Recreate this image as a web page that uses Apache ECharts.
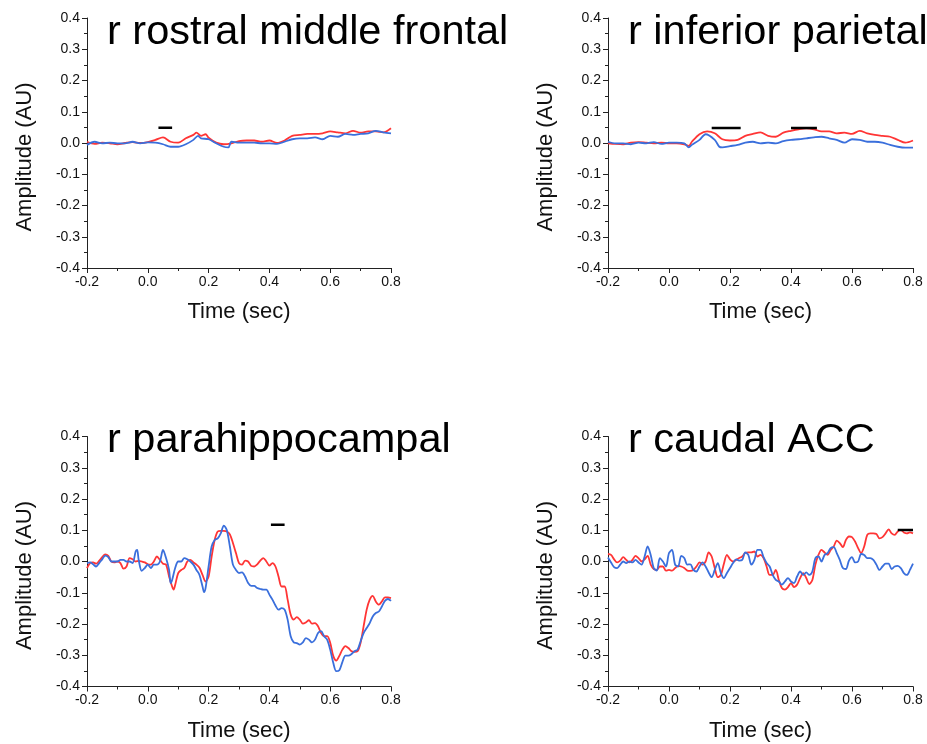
<!DOCTYPE html>
<html>
<head>
<meta charset="utf-8">
<script src="https://cdn.jsdelivr.net/npm/echarts@6/dist/echarts.min.js"></script>
<style>
  html, body { margin: 0; padding: 0; background: #fff; }
  #grafico { width: 927px; height: 744px; }
</style>
</head>
<body>
<div id="grafico"></div>
<script>
// Datos: pares [tiempo (s), amplitud (AU)]
var titulos = ['r rostral middle frontal', 'r inferior parietal', 'r parahippocampal', 'r caudal ACC'];

var rojo1 = [[-0.2,0.004],[-0.175,-0.003],[-0.15,0.001],[-0.125,-0.001],[-0.1,-0.004],[-0.075,0],[-0.05,0.003],[-0.025,0],[0,0.003],[0.025,0.01],[0.05,0.018],[0.075,0.004],[0.1,0.001],[0.125,0.015],[0.15,0.026],[0.16,0.033],[0.175,0.023],[0.19,0.028],[0.2,0.017],[0.225,0.001],[0.25,-0.004],[0.275,-0.001],[0.3,0.006],[0.325,0.008],[0.35,0.008],[0.375,0.004],[0.4,0.008],[0.425,0],[0.45,0.008],[0.475,0.023],[0.5,0.026],[0.525,0.029],[0.55,0.029],[0.575,0.031],[0.6,0.037],[0.625,0.034],[0.65,0.031],[0.675,0.039],[0.7,0.033],[0.725,0.037],[0.75,0.037],[0.775,0.034],[0.8,0.047]];
var azul1 = [[-0.2,-0.006],[-0.175,0.004],[-0.15,-0.001],[-0.125,0.001],[-0.1,-0.001],[-0.075,-0.001],[-0.05,0.004],[-0.025,-0.001],[0,0.002],[0.025,0.001],[0.05,-0.004],[0.075,-0.012],[0.1,-0.012],[0.125,-0.004],[0.15,0.01],[0.165,0.023],[0.175,0.015],[0.2,0.012],[0.225,-0.001],[0.25,-0.012],[0.265,-0.014],[0.275,0.004],[0.3,0.001],[0.325,0.001],[0.35,0.001],[0.375,-0.001],[0.4,-0.001],[0.425,-0.003],[0.45,0.004],[0.475,0.012],[0.5,0.015],[0.525,0.015],[0.55,0.018],[0.575,0.012],[0.6,0.023],[0.625,0.02],[0.65,0.029],[0.675,0.026],[0.7,0.029],[0.725,0.031],[0.75,0.039],[0.775,0.034],[0.8,0.031]];

var rojo2 = [[-0.2,-0.001],[-0.175,-0.003],[-0.15,-0.004],[-0.125,0.001],[-0.1,0.003],[-0.075,0.001],[-0.05,-0.001],[-0.025,0.001],[0,-0.001],[0.025,-0.001],[0.05,-0.004],[0.065,-0.009],[0.075,0.004],[0.1,0.028],[0.125,0.037],[0.15,0.031],[0.175,0.012],[0.2,0.008],[0.225,0.01],[0.25,0.023],[0.275,0.029],[0.3,0.034],[0.325,0.023],[0.35,0.02],[0.375,0.033],[0.4,0.039],[0.425,0.044],[0.45,0.047],[0.475,0.044],[0.5,0.037],[0.525,0.037],[0.55,0.031],[0.575,0.033],[0.6,0.029],[0.625,0.039],[0.65,0.031],[0.675,0.026],[0.7,0.023],[0.725,0.02],[0.75,0.01],[0.775,0.001],[0.8,0.008]];
var azul2 = [[-0.2,0.004],[-0.175,-0.001],[-0.15,-0.001],[-0.125,-0.004],[-0.1,0.001],[-0.075,-0.001],[-0.05,0.003],[-0.025,-0.003],[0,0.001],[0.025,0.001],[0.05,-0.001],[0.065,-0.014],[0.075,-0.006],[0.1,0.01],[0.12,0.028],[0.15,0.01],[0.165,-0.012],[0.175,-0.014],[0.2,-0.01],[0.225,-0.006],[0.25,0.001],[0.275,0.004],[0.3,-0.001],[0.325,0.001],[0.35,-0.001],[0.375,0.006],[0.4,0.01],[0.425,0.012],[0.45,0.015],[0.475,0.018],[0.5,0.02],[0.525,0.015],[0.55,0.01],[0.575,0.001],[0.6,0.012],[0.625,0.01],[0.65,0.004],[0.675,0.004],[0.7,0.001],[0.725,-0.006],[0.75,-0.012],[0.775,-0.015],[0.8,-0.015]];

var rojo3 = [[-0.2,-0.021],[-0.19,-0.005],[-0.18,-0.003],[-0.17,-0.007],[-0.16,0.002],[-0.15,0.014],[-0.14,0.023],[-0.13,0.018],[-0.12,0],[-0.11,-0.003],[-0.1,0],[-0.09,-0.005],[-0.08,-0.023],[-0.07,-0.016],[-0.06,0.011],[-0.05,0.007],[-0.04,0],[-0.03,0.002],[-0.02,0],[-0.01,-0.003],[0,-0.009],[0.01,-0.01],[0.02,0],[0.03,0.016],[0.04,0.005],[0.05,-0.007],[0.06,-0.01],[0.07,-0.048],[0.08,-0.08],[0.085,-0.09],[0.09,-0.075],[0.1,-0.037],[0.11,-0.027],[0.12,-0.021],[0.13,0],[0.14,0.005],[0.15,-0.003],[0.16,-0.01],[0.17,-0.02],[0.18,-0.043],[0.19,-0.064],[0.2,-0.048],[0.21,0.016],[0.22,0.069],[0.23,0.096],[0.24,0.098],[0.25,0.098],[0.26,0.096],[0.27,0.087],[0.28,0.059],[0.29,0.027],[0.3,-0.005],[0.31,-0.01],[0.32,0.003],[0.33,0],[0.34,-0.014],[0.35,-0.016],[0.36,-0.009],[0.37,0.003],[0.38,0.011],[0.39,0],[0.4,-0.013],[0.41,-0.005],[0.42,-0.016],[0.43,-0.048],[0.44,-0.08],[0.45,-0.08],[0.46,-0.122],[0.47,-0.17],[0.48,-0.186],[0.49,-0.178],[0.5,-0.186],[0.51,-0.199],[0.52,-0.195],[0.53,-0.188],[0.54,-0.199],[0.55,-0.197],[0.56,-0.207],[0.57,-0.229],[0.58,-0.239],[0.59,-0.239],[0.6,-0.26],[0.61,-0.302],[0.62,-0.317],[0.63,-0.302],[0.64,-0.282],[0.65,-0.271],[0.66,-0.277],[0.67,-0.287],[0.68,-0.289],[0.69,-0.287],[0.7,-0.26],[0.71,-0.207],[0.72,-0.154],[0.73,-0.122],[0.74,-0.11],[0.75,-0.128],[0.76,-0.138],[0.77,-0.128],[0.78,-0.115],[0.79,-0.115],[0.8,-0.117]];
var azul3 = [[-0.2,-0.005],[-0.19,-0.003],[-0.18,-0.009],[-0.17,-0.016],[-0.16,-0.005],[-0.15,0.007],[-0.14,0.019],[-0.13,0.014],[-0.12,0],[-0.11,0],[-0.1,0],[-0.09,0.005],[-0.08,0.005],[-0.07,0],[-0.06,0],[-0.05,-0.005],[-0.04,0.032],[-0.035,0.037],[-0.03,0.005],[-0.02,-0.03],[-0.01,-0.021],[0,-0.01],[0.01,-0.021],[0.02,-0.01],[0.03,-0.01],[0.04,0],[0.05,0.037],[0.06,0.011],[0.07,-0.027],[0.075,-0.069],[0.08,-0.059],[0.09,-0.021],[0.1,0],[0.11,0],[0.12,0.011],[0.13,0.007],[0.14,0],[0.15,-0.01],[0.16,-0.027],[0.17,-0.043],[0.18,-0.08],[0.185,-0.098],[0.19,-0.085],[0.2,-0.016],[0.21,0.048],[0.22,0.069],[0.23,0.074],[0.24,0.09],[0.25,0.115],[0.26,0.1],[0.27,0.048],[0.28,-0.01],[0.29,-0.027],[0.3,-0.037],[0.31,-0.035],[0.32,-0.048],[0.33,-0.069],[0.34,-0.078],[0.35,-0.078],[0.36,-0.085],[0.37,-0.088],[0.38,-0.09],[0.39,-0.09],[0.4,-0.106],[0.41,-0.122],[0.42,-0.141],[0.43,-0.154],[0.44,-0.149],[0.45,-0.154],[0.46,-0.186],[0.47,-0.239],[0.48,-0.259],[0.49,-0.261],[0.5,-0.266],[0.51,-0.259],[0.52,-0.245],[0.53,-0.25],[0.54,-0.259],[0.55,-0.25],[0.56,-0.229],[0.57,-0.223],[0.58,-0.239],[0.59,-0.25],[0.6,-0.282],[0.61,-0.324],[0.62,-0.351],[0.63,-0.348],[0.64,-0.322],[0.65,-0.301],[0.66,-0.301],[0.67,-0.296],[0.68,-0.287],[0.69,-0.282],[0.7,-0.255],[0.71,-0.229],[0.72,-0.213],[0.73,-0.197],[0.74,-0.176],[0.75,-0.165],[0.76,-0.16],[0.77,-0.144],[0.78,-0.126],[0.79,-0.12],[0.8,-0.126]];

var rojo4 = [[-0.2,0.024],[-0.19,0.021],[-0.18,0.007],[-0.17,-0.003],[-0.16,0.003],[-0.15,0.014],[-0.14,0.005],[-0.13,-0.003],[-0.12,0.005],[-0.11,0.018],[-0.1,0.011],[-0.09,0],[-0.08,0.007],[-0.07,0.018],[-0.06,-0.01],[-0.05,-0.024],[-0.04,-0.027],[-0.03,-0.016],[-0.02,-0.016],[-0.01,-0.029],[0,-0.027],[0.01,-0.029],[0.02,-0.021],[0.03,-0.014],[0.04,-0.016],[0.05,-0.021],[0.06,-0.029],[0.07,-0.03],[0.08,-0.027],[0.09,-0.016],[0.1,-0.003],[0.11,-0.01],[0.12,0],[0.13,0.029],[0.14,0.016],[0.15,-0.021],[0.16,-0.05],[0.17,-0.043],[0.18,-0.007],[0.19,0.021],[0.2,0.007],[0.21,0],[0.22,0.005],[0.23,0.011],[0.24,0.016],[0.25,0.027],[0.26,0.029],[0.27,0.029],[0.28,0.032],[0.29,0.016],[0.3,0.021],[0.31,0.011],[0.32,-0.016],[0.33,-0.043],[0.34,-0.043],[0.35,-0.027],[0.36,-0.059],[0.37,-0.085],[0.38,-0.09],[0.39,-0.082],[0.4,-0.069],[0.41,-0.082],[0.42,-0.074],[0.43,-0.053],[0.44,-0.037],[0.45,-0.053],[0.46,-0.072],[0.47,-0.059],[0.48,-0.01],[0.49,0.021],[0.5,0.037],[0.51,0.029],[0.52,0.021],[0.53,0.037],[0.54,0.048],[0.55,0.067],[0.56,0.059],[0.57,0.046],[0.58,0.069],[0.59,0.08],[0.6,0.078],[0.61,0.064],[0.62,0.043],[0.63,0.027],[0.64,0.048],[0.65,0.085],[0.66,0.09],[0.67,0.09],[0.68,0.088],[0.69,0.074],[0.7,0.078],[0.71,0.09],[0.72,0.103],[0.73,0.09],[0.74,0.085],[0.75,0.096],[0.76,0.101],[0.77,0.093],[0.78,0.09],[0.79,0.093],[0.8,0.09]];
var azul4 = [[-0.2,0.013],[-0.19,-0.003],[-0.18,-0.018],[-0.17,-0.021],[-0.16,-0.01],[-0.15,0],[-0.14,-0.005],[-0.13,0],[-0.12,-0.003],[-0.11,0.005],[-0.1,-0.003],[-0.09,-0.01],[-0.08,0.016],[-0.07,0.048],[-0.06,0.021],[-0.05,-0.021],[-0.04,-0.029],[-0.03,0.011],[-0.02,0],[-0.01,-0.016],[0,0.027],[0.01,0.037],[0.02,-0.01],[0.03,-0.016],[0.04,0.018],[0.05,0.011],[0.06,-0.01],[0.07,-0.009],[0.08,-0.027],[0.09,-0.032],[0.1,-0.016],[0.11,-0.003],[0.12,-0.016],[0.13,-0.035],[0.14,-0.05],[0.15,-0.027],[0.16,-0.005],[0.17,-0.037],[0.18,-0.053],[0.19,-0.037],[0.2,-0.021],[0.21,-0.005],[0.22,0.007],[0.23,0.003],[0.24,0.005],[0.25,0.029],[0.26,0.021],[0.27,-0.01],[0.28,0.005],[0.29,0.037],[0.3,0.037],[0.31,0.014],[0.32,-0.005],[0.33,-0.016],[0.34,-0.043],[0.35,-0.059],[0.36,-0.064],[0.37,-0.074],[0.38,-0.064],[0.39,-0.053],[0.4,-0.064],[0.41,-0.069],[0.42,-0.048],[0.43,-0.032],[0.44,-0.043],[0.45,-0.035],[0.46,-0.043],[0.47,-0.032],[0.48,0.011],[0.49,0.016],[0.5,0],[0.51,0.021],[0.52,0.027],[0.53,0.043],[0.54,0.046],[0.55,0.027],[0.56,0.005],[0.57,-0.021],[0.58,-0.024],[0.59,0.003],[0.6,0.014],[0.61,-0.003],[0.62,0],[0.63,0.024],[0.64,0.021],[0.65,0.011],[0.66,0.011],[0.67,0.005],[0.68,-0.01],[0.69,-0.027],[0.7,-0.016],[0.71,-0.007],[0.72,-0.007],[0.73,-0.024],[0.74,-0.016],[0.75,-0.014],[0.76,-0.021],[0.77,-0.037],[0.78,-0.043],[0.79,-0.027],[0.8,-0.007]];

// Barras de significancia: [inicio, fin, amplitud]
var barras1 = [[0.035, 0.08, 0.049]];
var barras2 = [[0.14, 0.235, 0.048], [0.4, 0.485, 0.048]];
var barras3 = [[0.405, 0.45, 0.118]];
var barras4 = [[0.75, 0.8, 0.101]];

var ticksX = [-0.2, 0.8, 0.2];   // min, max, intervalo
var ticksY = [-0.4, 0.4, 0.1];

var rojos = [rojo1, rojo2, rojo3, rojo4];
var azules = [azul1, azul2, azul3, azul4];
var barras = [barras1, barras2, barras3, barras4];

// Posiciones de los paneles (px)
var paneles = [
    { left: 87, top: 18, width: 304, height: 250, tituloTop: 12 },
    { left: 608, top: 18, width: 305, height: 250, tituloTop: 12 },
    { left: 87, top: 436.5, width: 304, height: 250, tituloTop: 420 },
    { left: 608, top: 436.5, width: 305, height: 250, tituloTop: 420 }
];

var fuente = 'Arial, "Liberation Sans", sans-serif';
var colorEje = '#222';

function formato(v) {
    if (Math.abs(v) < 1e-9) v = 0;
    return v.toFixed(1);
}

function ejeX(i) {
    return {
        type: 'value', gridIndex: i,
        min: ticksX[0], max: ticksX[1], interval: ticksX[2],
        axisLine: { show: true, onZero: false, lineStyle: { color: colorEje, width: 1 } },
        axisTick: { show: true, length: 5, lineStyle: { color: colorEje } },
        minorTick: { show: true, splitNumber: 2, length: 3, lineStyle: { color: colorEje } },
        splitLine: { show: false },
        axisLabel: { formatter: formato, fontSize: 14, color: '#111', fontFamily: fuente, margin: 7 }
    };
}

function ejeY(i) {
    return {
        type: 'value', gridIndex: i,
        min: ticksY[0], max: ticksY[1], interval: ticksY[2],
        axisLine: { show: true, onZero: false, lineStyle: { color: colorEje, width: 1 } },
        axisTick: { show: true, length: 5, lineStyle: { color: colorEje } },
        minorTick: { show: true, splitNumber: 2, length: 3, lineStyle: { color: colorEje } },
        splitLine: { show: false },
        axisLabel: { formatter: formato, fontSize: 14, color: '#111', fontFamily: fuente, margin: 7 }
    };
}

var grids = [], xAxes = [], yAxes = [], series = [], titles = [], textos = [];

paneles.forEach(function (p, i) {
    grids.push({ left: p.left, top: p.top, width: p.width, height: p.height });
    xAxes.push(ejeX(i));
    yAxes.push(ejeY(i));

    titles.push({
        text: titulos[i], left: p.left + 20, top: p.tituloTop, padding: 0,
        textStyle: { fontSize: 41.5, fontWeight: 'normal', color: '#000', fontFamily: fuente }
    });

    // Nombres de los ejes
    textos.push({
        type: 'text', x: p.left - 62, y: p.top + 139, rotation: Math.PI / 2,
        style: { text: 'Amplitude (AU)', font: '22px ' + fuente, fill: '#111', align: 'center', verticalAlign: 'middle' }
    });
    textos.push({
        type: 'text', x: p.left + p.width / 2, y: p.top + p.height + 44,
        style: { text: 'Time (sec)', font: '22px ' + fuente, fill: '#111', align: 'center', verticalAlign: 'middle' }
    });

    series.push({
        name: 'rojo', type: 'line', xAxisIndex: i, yAxisIndex: i,
        data: rojos[i], smooth: 0.3, showSymbol: false,
        lineStyle: { color: '#ff3535', width: 1.8 }, z: 2
    });
    series.push({
        name: 'azul', type: 'line', xAxisIndex: i, yAxisIndex: i,
        data: azules[i], smooth: 0.3, showSymbol: false,
        lineStyle: { color: '#3a6fdc', width: 1.8 }, z: 3
    });

    barras[i].forEach(function (b) {
        series.push({
            type: 'line', xAxisIndex: i, yAxisIndex: i,
            data: [[b[0], b[2]], [b[1], b[2]]], showSymbol: false,
            lineStyle: { color: '#000', width: 2.5 }, z: 4
        });
    });
});

var grafico = echarts.init(document.getElementById('grafico'));
grafico.setOption({
    animation: false,
    backgroundColor: '#fff',
    title: titles,
    grid: grids,
    xAxis: xAxes,
    yAxis: yAxes,
    series: series,
    graphic: textos
});
</script>
</body>
</html>
